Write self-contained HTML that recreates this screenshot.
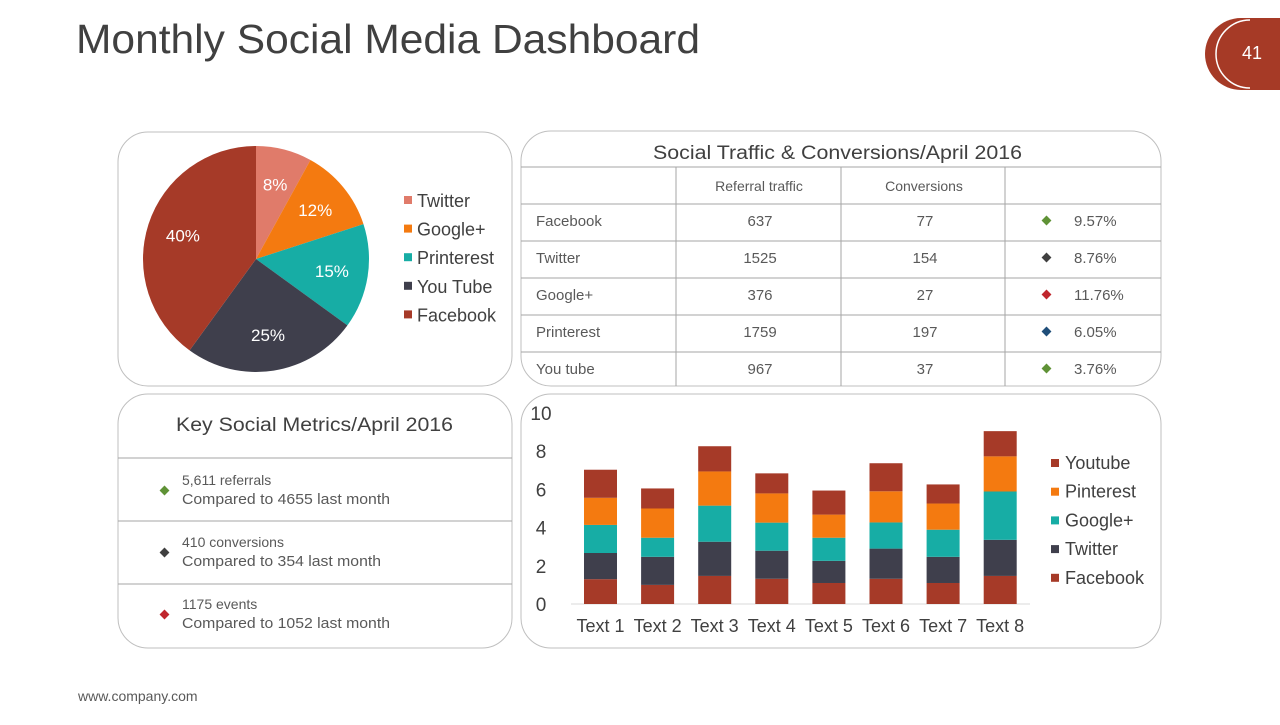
<!DOCTYPE html>
<html><head><meta charset="utf-8"><style>
body{margin:0;width:1280px;height:720px;background:#fff;font-family:"Liberation Sans",sans-serif;overflow:hidden}
svg text{font-family:"Liberation Sans",sans-serif}
</style></head><body>
<svg id="s" width="1280" height="720" viewBox="0 0 1280 720" xmlns="http://www.w3.org/2000/svg">
<text x="76" y="53" font-size="41" fill="#404040" textLength="624" lengthAdjust="spacingAndGlyphs">Monthly Social Media Dashboard</text>
<g>
<path d="M1280,18 L1241,18 A36,36 0 0 0 1241,90 L1280,90 Z" fill="#A63A26"/>
<path d="M1250,20 A34,34 0 0 0 1250,88" fill="none" stroke="#fff" stroke-width="1.5"/>
<text x="1252" y="59" font-size="18" fill="#fff" text-anchor="middle">41</text>
</g>
<text x="78" y="701" font-size="14" fill="#595959">www.company.com</text>
<rect x="118" y="132" width="394" height="254" rx="30" fill="#fff" stroke="#bfbfbf"/>
<rect x="521" y="131" width="640" height="255" rx="30" fill="#fff" stroke="#bfbfbf"/>
<rect x="118" y="394" width="394" height="254" rx="30" fill="#fff" stroke="#bfbfbf"/>
<rect x="521" y="394" width="640" height="254" rx="30" fill="#fff" stroke="#bfbfbf"/>
<g id="pie"></g>
<g id="table"></g>
<g>
<text x="176" y="431" font-size="19" fill="#404040" textLength="277" lengthAdjust="spacingAndGlyphs">Key Social Metrics/April 2016</text>
<line x1="118" y1="458" x2="512" y2="458" stroke="#a6a6a6"/>
<line x1="118" y1="521" x2="512" y2="521" stroke="#a6a6a6"/>
<line x1="118" y1="584" x2="512" y2="584" stroke="#a6a6a6"/>
<rect x="161" y="487" width="7" height="7" transform="rotate(45 164.5 490.5)" fill="#5F9236"/>
<text x="182" y="485" font-size="14" fill="#595959">5,611 referrals</text>
<text x="182" y="504" font-size="15" fill="#595959" textLength="208" lengthAdjust="spacingAndGlyphs">Compared to 4655 last month</text>
<rect x="161" y="549" width="7" height="7" transform="rotate(45 164.5 552.5)" fill="#404040"/>
<text x="182" y="547" font-size="14" fill="#595959">410 conversions</text>
<text x="182" y="566" font-size="15" fill="#595959" textLength="199" lengthAdjust="spacingAndGlyphs">Compared to 354 last month</text>
<rect x="161" y="611" width="7" height="7" transform="rotate(45 164.5 614.5)" fill="#C0262D"/>
<text x="182" y="609" font-size="14" fill="#595959">1175 events</text>
<text x="182" y="628" font-size="15" fill="#595959" textLength="208" lengthAdjust="spacingAndGlyphs">Compared to 1052 last month</text>
</g>
<g id="bars"></g>
</svg>
<script>
const NS="http://www.w3.org/2000/svg";
function mk(p,t,a){const e=document.createElementNS(NS,t);for(const k in a)e.setAttribute(k,a[k]);p.appendChild(e);return e;}
// Pie data
const pieLabels=["Twitter","Google+","Printerest","You Tube","Facebook"];
const pieValues=[8,12,15,25,40];
const pieColors=["#E07B6A","#F47A10","#17ADA5","#3F3F4C","#A63A28"];
const pie=document.getElementById('pie');
const cx=256,cy=259,r=113;let a0=-Math.PI/2;
pieValues.forEach((v,i)=>{
  const a1=a0+v/100*2*Math.PI;
  const large=(a1-a0)>Math.PI?1:0;
  const p=mk(pie,'path',{d:`M${cx},${cy} L${cx+r*Math.cos(a0)},${cy+r*Math.sin(a0)} A${r},${r} 0 ${large} 1 ${cx+r*Math.cos(a1)},${cy+r*Math.sin(a1)} Z`,fill:pieColors[i]});
  
  
  const am=(a0+a1)/2,lr=r*0.68;
  const t=mk(pie,'text',{x:cx+lr*Math.cos(am),y:cy+lr*Math.sin(am)+6,'font-size':17,fill:'#fff','text-anchor':'middle'});
  t.textContent=v+'%';
  
  
  a0=a1;
  const ly=201+i*28.6;
  const sw=mk(pie,'rect',{x:404,y:ly-5,width:8,height:8,fill:pieColors[i]});
  
  
  const lt=mk(pie,'text',{x:417,y:ly+6,'font-size':18,fill:'#404040'});
  lt.textContent=pieLabels[i];
  
  
});
// Table
const tRows=["Facebook","Twitter","Google+","Printerest","You tube"];
const tRef=[637,1525,376,1759,967];
const tConv=[77,154,27,197,37];
const tPct=["9.57%","8.76%","11.76%","6.05%","3.76%"];
const tCol=["#5F9236","#404040","#C0262D","#1F4E79","#5F9236"];
const tb=document.getElementById('table');
let tt=mk(tb,'text',{x:653,y:159,'font-size':19,fill:'#404040',textLength:369,lengthAdjust:'spacingAndGlyphs'});tt.textContent="Social Traffic & Conversions/April 2016";


for(let i=0;i<6;i++){mk(tb,'line',{x1:521,x2:1161,y1:167+i*37,y2:167+i*37,stroke:'#a6a6a6'});}
[676,841,1005].forEach(x=>mk(tb,'line',{x1:x,x2:x,y1:167,y2:386,stroke:'#a6a6a6'}));
let h1=mk(tb,'text',{x:759,y:191,'font-size':14,fill:'#595959','text-anchor':'middle'});h1.textContent="Referral traffic";
let h2=mk(tb,'text',{x:924,y:191,'font-size':14,fill:'#595959','text-anchor':'middle'});h2.textContent="Conversions";
tRows.forEach((n,i)=>{
  const y=226+i*37;
  let a=mk(tb,'text',{x:536,y:y,'font-size':15,fill:'#595959'});a.textContent=n;
  
  
  let b=mk(tb,'text',{x:760,y:y,'font-size':15,fill:'#595959','text-anchor':'middle'});b.textContent=tRef[i];
  let c=mk(tb,'text',{x:925,y:y,'font-size':15,fill:'#595959','text-anchor':'middle'});c.textContent=tConv[i];
  mk(tb,'rect',{x:1043,y:y-9,width:7,height:7,fill:tCol[i],transform:`rotate(45 1046.5 ${y-5.5})`});
  let d=mk(tb,'text',{x:1074,y:y,'font-size':15,fill:'#595959'});d.textContent=tPct[i];
});
// Bar chart
const categories=["Text 1","Text 2","Text 3","Text 4","Text 5","Text 6","Text 7","Text 8"];
const facebook=[1.3,1.0,1.47,1.32,1.1,1.32,1.1,1.47];
const twitter=[1.37,1.47,1.79,1.47,1.16,1.58,1.37,1.89];
const googleplus=[1.47,1.0,1.89,1.47,1.21,1.37,1.42,2.53];
const pinterest=[1.42,1.53,1.79,1.53,1.21,1.63,1.37,1.84];
const youtube=[1.47,1.05,1.32,1.05,1.26,1.47,1.0,1.32];
const yTicks=[0,2,4,6,8,10];
const seriesNames=["Facebook","Twitter","Google+","Pinterest","Youtube"];
const series=[facebook,twitter,googleplus,pinterest,youtube];
const sColors=["#A63A28","#3F3F4C","#17ADA5","#F47A10","#A63A28"];
const bg=document.getElementById('bars');
const yS=v=>604-v*19.1, xS=i=>600.5+i*57.1;
yTicks.forEach(t=>{const e=mk(bg,'text',{x:541,y:yS(t)+7,'font-size':19,fill:'#404040','text-anchor':'middle'});e.textContent=t;
  
  });
mk(bg,'line',{x1:571,x2:1030,y1:604,y2:604,stroke:'#d9d9d9'});
categories.forEach((c,i)=>{
  let base=0;
  series.forEach((s,j)=>{
    const r=mk(bg,'rect',{x:xS(i)-16.5,y:yS(base+s[i]),width:33,height:s[i]*19.1,fill:sColors[j]});
    
    
    base+=s[i];
  });
  const t=mk(bg,'text',{x:xS(i),y:632,'font-size':18,fill:'#404040','text-anchor':'middle'});t.textContent=c;
  
  
});
for(let j=4;j>=0;j--){
  const y=463+(4-j)*28.7;
  const sw=mk(bg,'rect',{x:1051,y:y-4,width:8,height:8,fill:sColors[j]});
  
  
  const t=mk(bg,'text',{x:1065,y:y+6,'font-size':18,fill:'#404040'});t.textContent=seriesNames[j];
  
  
}
</script>
</body></html>
